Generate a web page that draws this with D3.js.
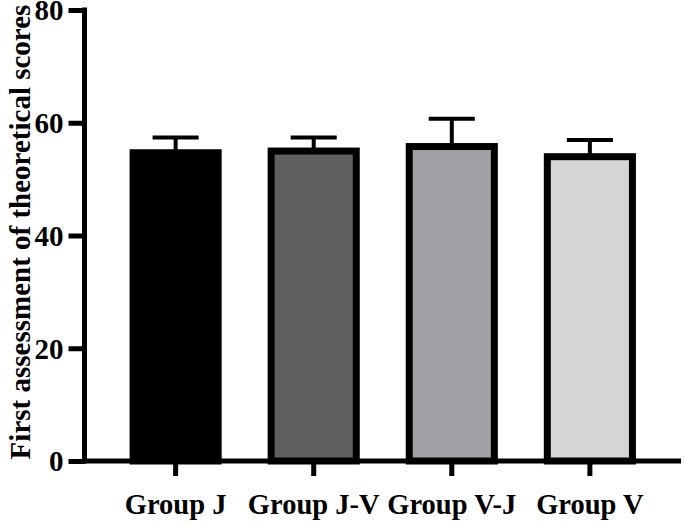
<!DOCTYPE html>
<html>
<head>
<meta charset="utf-8">
<script src="https://cdn.jsdelivr.net/npm/d3@7"></script>
<style>
  html, body { margin: 0; padding: 0; background: #fff; }
  svg { display: block; }
  text { font-family: "Liberation Serif", "Times New Roman", serif; font-weight: bold; fill: #000; }
</style>
</head>
<body>
<script>
const categories = ["Group J", "Group J-V", "Group V-J", "Group V"];
const means = [55.3, 55.6, 56.4, 54.6];
const errors = [2.1, 1.8, 4.3, 2.35];
const fills = ["#000000", "#606060", "#a2a1a6", "#d5d5d5"];
const yTicks = [0, 20, 40, 60, 80];
const yTitle = "First assessment of theoretical scores";

const W = 685, H = 525;
const svg = d3.select("body").append("svg").attr("width", W).attr("height", H);

const y = d3.scaleLinear().domain([0, 80]).range([461, 10]);
const x = d3.scaleBand().domain(categories).range([84, 681.5])
  .paddingInner(0.333).paddingOuter(0.33);

const sw = 7;
// bars
svg.append("g").selectAll("rect").data(categories).join("rect")
  .attr("x", d => x(d) + sw / 2)
  .attr("width", x.bandwidth() - sw)
  .attr("y", (d, i) => y(means[i]) + sw / 2)
  .attr("height", (d, i) => y(0) - y(means[i]) - sw / 2)
  .attr("fill", (d, i) => fills[i])
  .attr("stroke", "#000")
  .attr("stroke-width", sw);

// error bars
const eb = svg.append("g").attr("stroke", "#000").attr("stroke-width", 4);
categories.forEach((c, i) => {
  const cx = x(c) + x.bandwidth() / 2;
  eb.append("line").attr("x1", cx).attr("x2", cx)
    .attr("y1", y(means[i]) + 1).attr("y2", y(means[i] + errors[i]));
  eb.append("line").attr("x1", cx - x.bandwidth() / 4).attr("x2", cx + x.bandwidth() / 4)
    .attr("y1", y(means[i] + errors[i])).attr("y2", y(means[i] + errors[i]));
});

// y axis
const yAxis = svg.append("g").attr("transform", "translate(84.5,0)")
  .call(d3.axisLeft(y).tickValues(yTicks).tickSize(16).tickPadding(5).tickFormat(d3.format("d")));
yAxis.select(".domain").attr("d", `M0,${y(80) - 2.5}V${y(0) + 2.5}`).attr("stroke-width", 5);
yAxis.selectAll(".tick line").attr("stroke-width", 5);
yAxis.selectAll(".tick text").attr("font-size", 29).attr("dy", "0.34em").style("font-family", "Liberation Serif").style("font-weight", "bold");

// x axis
const xAxis = svg.append("g").attr("transform", `translate(0,${y(0)})`)
  .call(d3.axisBottom(x).tickSize(15).tickPadding(18));
xAxis.select(".domain").attr("d", `M82,0H681`).attr("stroke-width", 5);
xAxis.selectAll(".tick line").attr("stroke-width", 5);
xAxis.selectAll(".tick text").attr("font-size", 28.5).attr("dy", "0.71em").style("font-family", "Liberation Serif").style("font-weight", "bold");

// y title
svg.append("text")
  .attr("transform", "translate(30,232) rotate(-90)")
  .attr("text-anchor", "middle")
  .attr("font-size", 29)
  .text(yTitle);
</script>
</body>
</html>
